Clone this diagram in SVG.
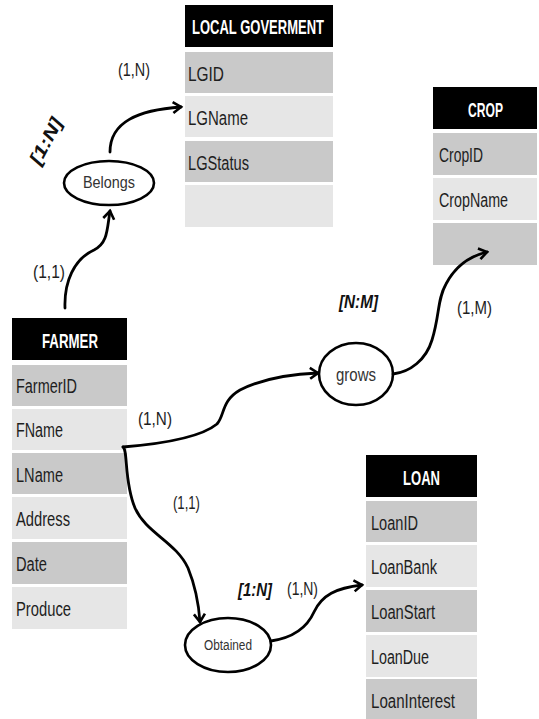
<svg xmlns="http://www.w3.org/2000/svg" width="539" height="719" viewBox="0 0 539 719">
<style>
.bg{fill:#ffffff}
.hd{fill:#000000}
.d{fill:#c9c9c9}
.l{fill:#e6e6e6}
.ht{font-family:"Liberation Sans",Arial,sans-serif;font-weight:bold;font-size:20px;fill:#ffffff}
.rt{font-family:"Liberation Sans",Arial,sans-serif;font-size:20px;fill:#1e1e1e}
.card{font-family:"Liberation Sans",Arial,sans-serif;font-size:19px;fill:#1e1e1e}
.rel{font-family:"Liberation Sans",Arial,sans-serif;font-size:18px;font-weight:bold;font-style:italic;fill:#111111}
.ell{fill:#ffffff;stroke:#000000;stroke-width:2.6}
.et{font-family:"Liberation Sans",Arial,sans-serif;fill:#333333}
.con{fill:none;stroke:#000000;stroke-width:2.8;stroke-linecap:round}
</style>
<defs>
<marker id="arr" markerUnits="userSpaceOnUse" markerWidth="16" markerHeight="16" viewBox="-10 -8 12 16" refX="0" refY="0" orient="auto">
<path d="M-8,-5.5 L0,0 L-8,5.5" fill="none" stroke="#000000" stroke-width="2.6" stroke-linejoin="miter"/>
</marker>
</defs>
<rect class="bg" x="0" y="0" width="539" height="719"/>

<g id="local-goverment">
<rect class="hd" x="185" y="5" width="148" height="42"/>
<text class="ht" x="192" y="34" textLength="132" lengthAdjust="spacingAndGlyphs">LOCAL GOVERMENT</text>
<rect class="d" x="185" y="52" width="148" height="41"/>
<text class="rt" x="188" y="81" textLength="36" lengthAdjust="spacingAndGlyphs">LGID</text>
<rect class="l" x="185" y="96" width="148" height="41"/>
<text class="rt" x="188" y="125" textLength="60" lengthAdjust="spacingAndGlyphs">LGName</text>
<rect class="d" x="185" y="141" width="148" height="41"/>
<text class="rt" x="188" y="170" textLength="61" lengthAdjust="spacingAndGlyphs">LGStatus</text>
<rect class="l" x="185" y="185" width="148" height="42"/>
</g>

<g id="crop">
<rect class="hd" x="433" y="87" width="104" height="42"/>
<text class="ht" x="468" y="117" textLength="35" lengthAdjust="spacingAndGlyphs">CROP</text>
<rect class="d" x="433" y="133" width="104" height="42"/>
<text class="rt" x="439" y="162" textLength="44" lengthAdjust="spacingAndGlyphs">CropID</text>
<rect class="l" x="433" y="178" width="104" height="42"/>
<text class="rt" x="439" y="207" textLength="69" lengthAdjust="spacingAndGlyphs">CropName</text>
<rect class="d" x="433" y="223" width="104" height="42"/>
</g>

<g id="farmer">
<rect class="hd" x="12" y="318" width="115" height="42"/>
<text class="ht" x="42" y="348" textLength="56" lengthAdjust="spacingAndGlyphs">FARMER</text>
<rect class="d" x="12" y="365" width="115" height="41"/>
<text class="rt" x="16" y="393" textLength="61" lengthAdjust="spacingAndGlyphs">FarmerID</text>
<rect class="l" x="12" y="409" width="115" height="41"/>
<text class="rt" x="16" y="437" textLength="47" lengthAdjust="spacingAndGlyphs">FName</text>
<rect class="d" x="12" y="453" width="115" height="41"/>
<text class="rt" x="16" y="482" textLength="47" lengthAdjust="spacingAndGlyphs">LName</text>
<rect class="l" x="12" y="497" width="115" height="42"/>
<text class="rt" x="16" y="526" textLength="54" lengthAdjust="spacingAndGlyphs">Address</text>
<rect class="d" x="12" y="542" width="115" height="42"/>
<text class="rt" x="16" y="571" textLength="31" lengthAdjust="spacingAndGlyphs">Date</text>
<rect class="l" x="12" y="587" width="115" height="42"/>
<text class="rt" x="16" y="616" textLength="55" lengthAdjust="spacingAndGlyphs">Produce</text>
</g>

<g id="loan">
<rect class="hd" x="366" y="455" width="111" height="42"/>
<text class="ht" x="403" y="485" textLength="37" lengthAdjust="spacingAndGlyphs">LOAN</text>
<rect class="d" x="366" y="501" width="111" height="41"/>
<text class="rt" x="371" y="530" textLength="47" lengthAdjust="spacingAndGlyphs">LoanID</text>
<rect class="l" x="366" y="545" width="111" height="42"/>
<text class="rt" x="371" y="574" textLength="66" lengthAdjust="spacingAndGlyphs">LoanBank</text>
<rect class="d" x="366" y="590" width="111" height="42"/>
<text class="rt" x="371" y="619" textLength="64" lengthAdjust="spacingAndGlyphs">LoanStart</text>
<rect class="l" x="366" y="635" width="111" height="42"/>
<text class="rt" x="371" y="664" textLength="58" lengthAdjust="spacingAndGlyphs">LoanDue</text>
<rect class="d" x="366" y="679" width="111" height="40"/>
<text class="rt" x="371" y="708" textLength="84" lengthAdjust="spacingAndGlyphs">LoanInterest</text>
</g>

<g id="belongs">
<ellipse class="ell" cx="109" cy="183" rx="45" ry="22"/>
<text class="et" x="83" y="188" font-size="17" textLength="52" lengthAdjust="spacingAndGlyphs">Belongs</text>
</g>

<g id="grows">
<ellipse class="ell" cx="356" cy="374" rx="37" ry="31"/>
<text class="et" x="336" y="381" font-size="18" textLength="40" lengthAdjust="spacingAndGlyphs">grows</text>
</g>

<g id="obtained">
<ellipse class="ell" cx="228" cy="645" rx="43" ry="27"/>
<text class="et" x="204" y="650" font-size="14" textLength="48" lengthAdjust="spacingAndGlyphs">Obtained</text>
</g>

<g id="connectors">
<path class="con" d="M65,308 C64,282 74,259 94,250 C108,243 107,229 110,211" marker-end="url(#arr)"/>
<path class="con" d="M110,152 C110,122 138,110 181,107" marker-end="url(#arr)"/>
<path class="con" d="M123,447 C160,444 200,438 217,424 C225,415 221,401 240,390 C262,379 292,374 318,373" marker-end="url(#arr)"/>
<path class="con" d="M123,447 C128,450 124,482 135,508 C146,533 176,542 188,568 C197,590 199,608 200,622" marker-end="url(#arr)"/>
<path class="con" d="M393,374 C410,372 426,360 432,340 C440,314 437,300 446,284 C456,265 470,256 487,252" marker-end="url(#arr)"/>
<path class="con" d="M271,641 C291,638 306,630 314,612 C322,595 336,588 362,585" marker-end="url(#arr)"/>
</g>

<g id="labels">
<text class="card" x="118" y="76" textLength="32" lengthAdjust="spacingAndGlyphs">(1,N)</text>
<text class="rel" transform="translate(46,141) rotate(-62)" x="-25" y="6" textLength="50" lengthAdjust="spacingAndGlyphs">[1:N]</text>
<text class="card" x="33" y="278" textLength="32" lengthAdjust="spacingAndGlyphs">(1,1)</text>
<text class="rel" x="339" y="308" textLength="39" lengthAdjust="spacingAndGlyphs">[N:M]</text>
<text class="card" x="457" y="314" textLength="35" lengthAdjust="spacingAndGlyphs">(1,M)</text>
<text class="card" x="138" y="425" textLength="34" lengthAdjust="spacingAndGlyphs">(1,N)</text>
<text class="card" x="173" y="509" textLength="27" lengthAdjust="spacingAndGlyphs">(1,1)</text>
<text class="rel" x="238" y="596" textLength="34" lengthAdjust="spacingAndGlyphs">[1:N]</text>
<text class="card" x="287" y="595" textLength="31" lengthAdjust="spacingAndGlyphs">(1,N)</text>
</g>
</svg>
